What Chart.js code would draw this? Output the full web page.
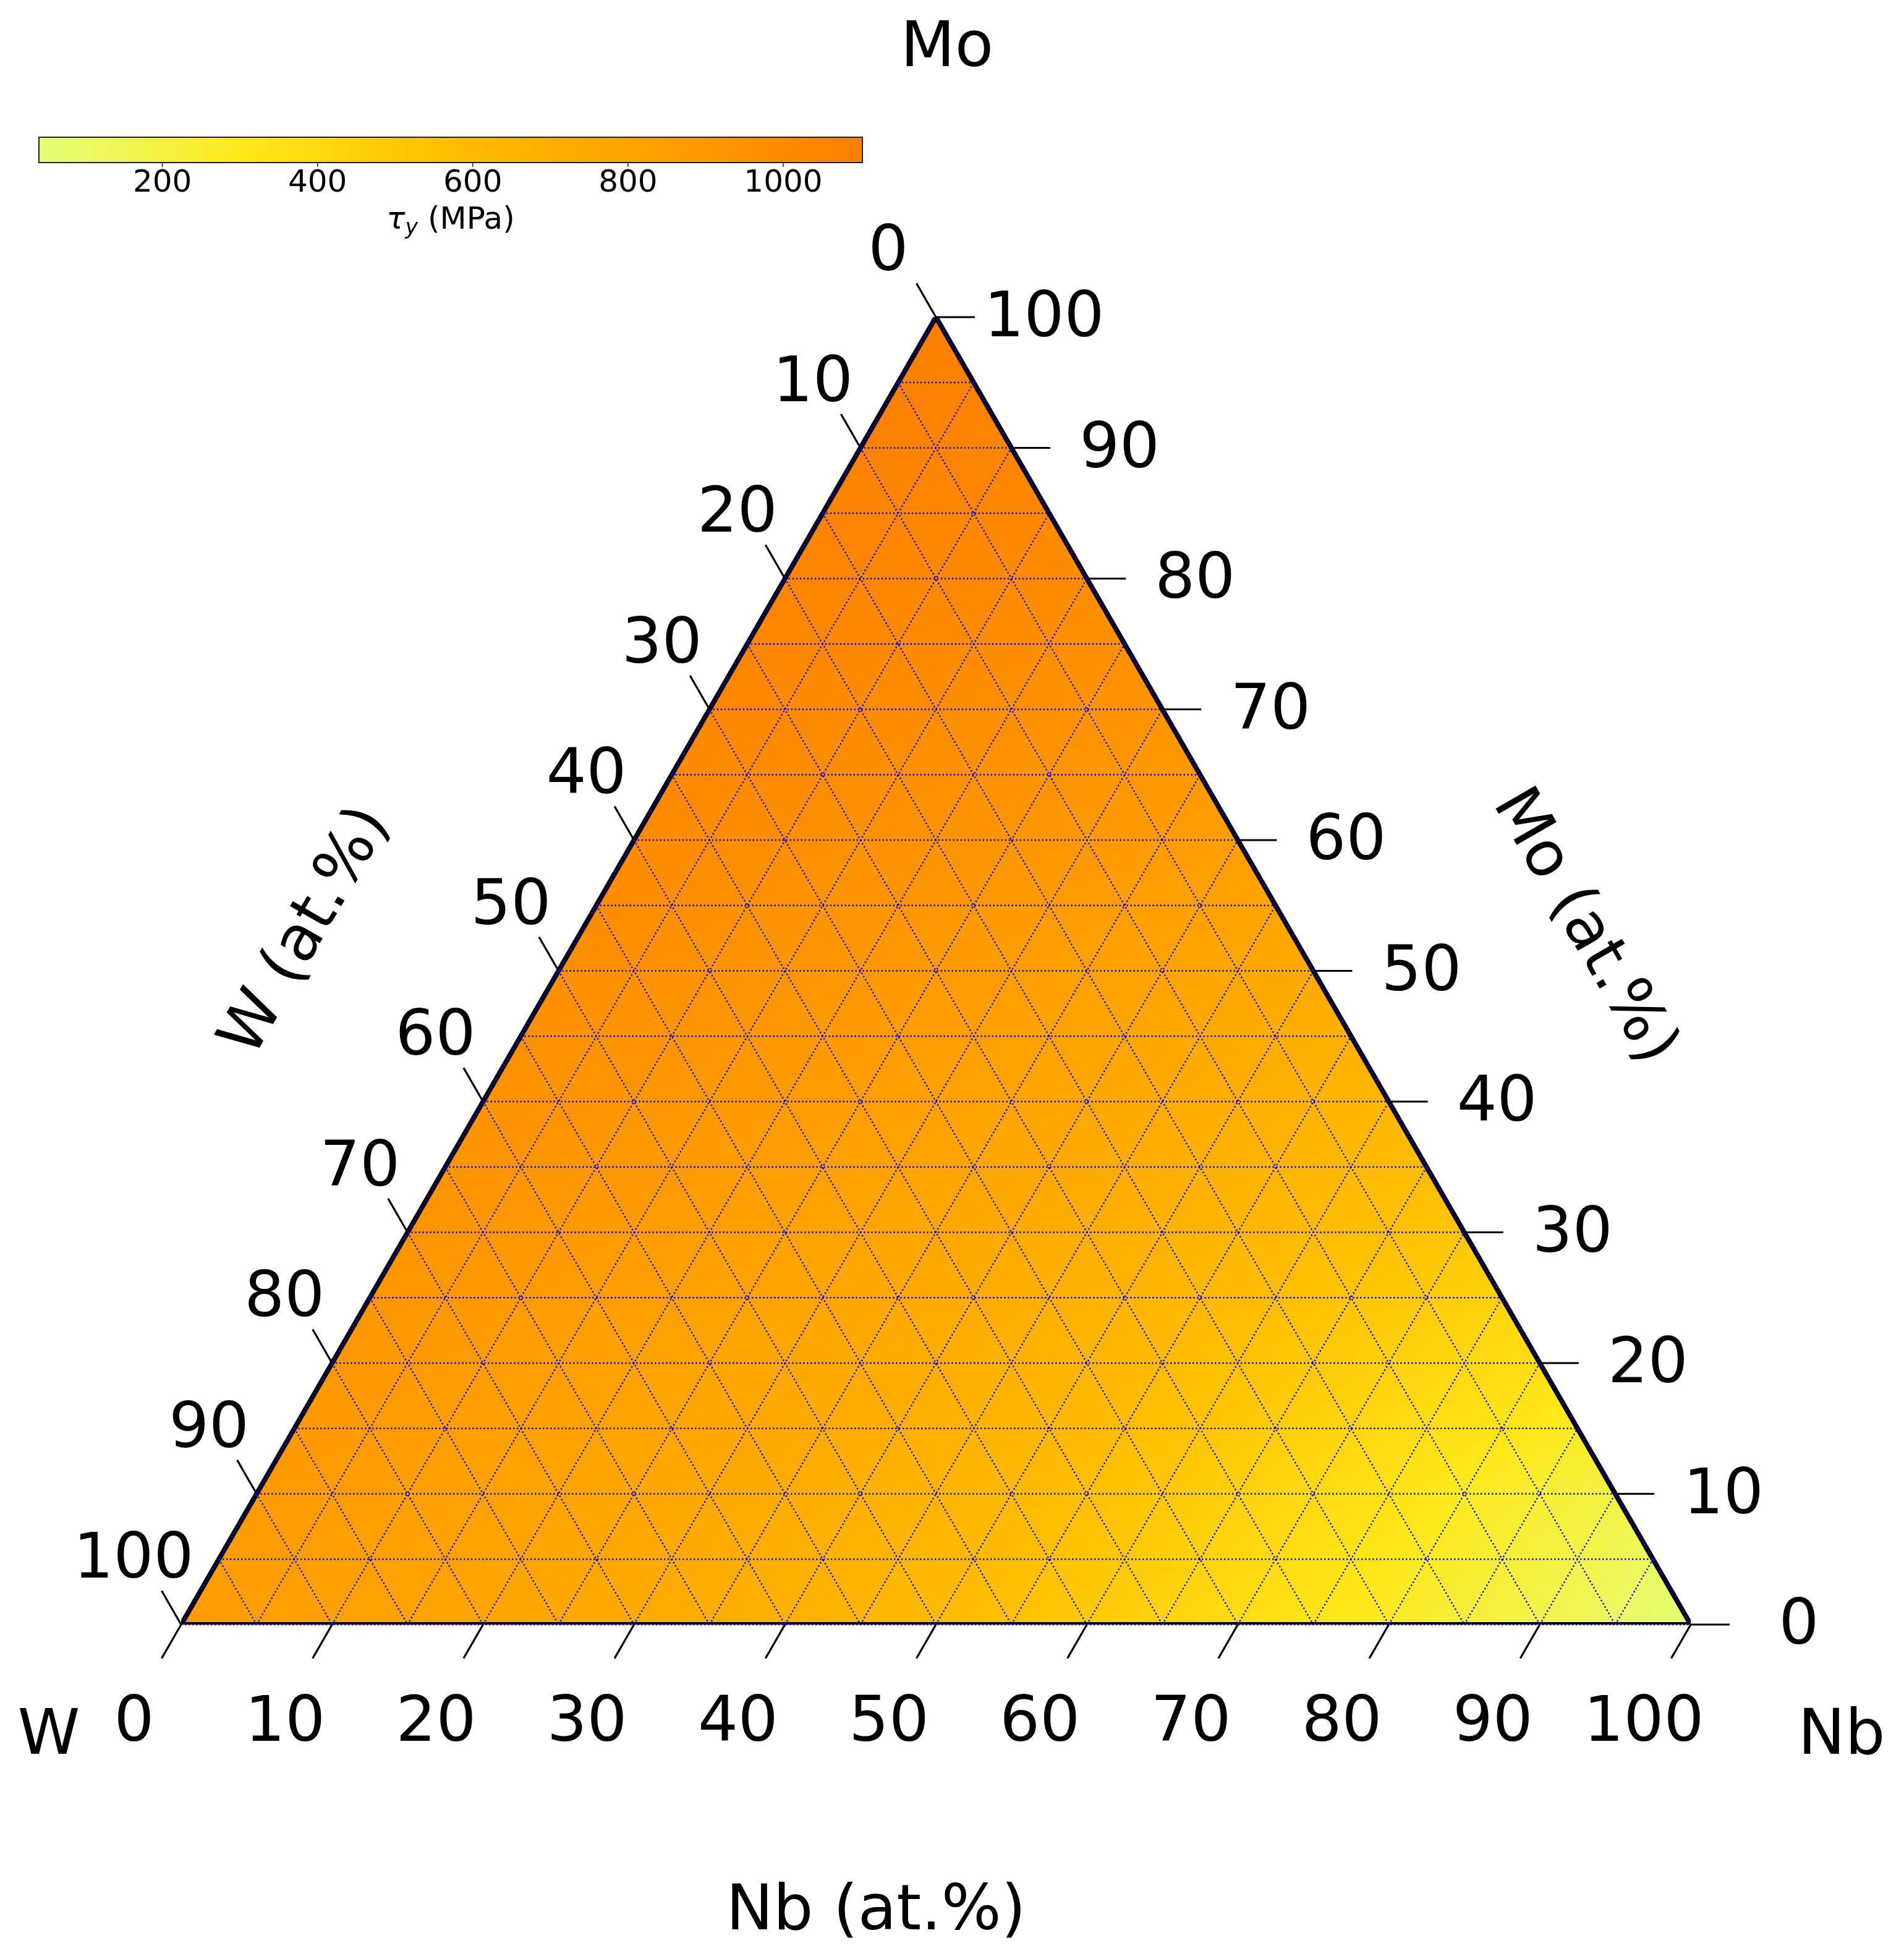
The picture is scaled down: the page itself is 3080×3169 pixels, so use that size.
<!DOCTYPE html>
<html>
<head>
<meta charset="utf-8">
<script src="https://cdn.jsdelivr.net/npm/chart.js@4"></script>
<style>
  body { margin: 0; background: #fff; }
  canvas { display: block; }
</style>
</head>
<body>
<canvas id="ternChart" width="3080" height="3169" style="width:3080px;height:3169px"></canvas>
<script>
// tau_y (MPa) at every 10 at.% node
// one array per Mo level, entries go Nb = 0, 10, 20 ... (W = 100 - Mo - Nb)
const tauMo0   = [865, 830, 790, 740, 675, 595, 490, 375, 275, 170, 45];
const tauMo10  = [880, 845, 805, 755, 690, 610, 505, 395, 290, 190];
const tauMo20  = [900, 865, 825, 775, 715, 640, 545, 450, 365];
const tauMo30  = [925, 890, 850, 800, 745, 670, 590, 515];
const tauMo40  = [950, 915, 875, 830, 775, 705, 625];
const tauMo50  = [980, 945, 905, 860, 810, 745];
const tauMo60  = [1005, 975, 940, 895, 850];
const tauMo70  = [1035, 1005, 970, 930];
const tauMo80  = [1060, 1030, 995];
const tauMo90  = [1085, 1055];
const tauMo100 = [1100];
const tauRows = [tauMo0, tauMo10, tauMo20, tauMo30, tauMo40, tauMo50,
                 tauMo60, tauMo70, tauMo80, tauMo90, tauMo100];

const axisTicks = [0, 10, 20, 30, 40, 50, 60, 70, 80, 90, 100];
const gridLevels = [5, 10, 15, 20, 25, 30, 35, 40, 45, 50, 55, 60, 65, 70, 75, 80, 85, 90, 95];
const cbTicks = [200, 400, 600, 800, 1000];
const cbRange = [41, 1102];

const SQ = Math.sqrt(3) / 2;
const FONT = "'DejaVu Sans', 'Liberation Sans', sans-serif";

// ternary (Nb, Mo) -> cartesian
function tern(nb, mo) {
  return { x: nb + mo / 2, y: mo * SQ };
}

// matplotlib Wistia
const wistia = [
  [0.00, 228, 255, 122],
  [0.25, 255, 232, 26],
  [0.50, 255, 189, 0],
  [0.75, 255, 160, 0],
  [1.00, 252, 127, 0]
];
function wistiaColor(t) {
  t = Math.max(0, Math.min(1, t));
  for (let k = 1; k < wistia.length; k++) {
    if (t <= wistia[k][0]) {
      const a = wistia[k - 1], b = wistia[k];
      const f = (t - a[0]) / (b[0] - a[0]);
      const r = Math.round(a[1] + (b[1] - a[1]) * f);
      const g = Math.round(a[2] + (b[2] - a[2]) * f);
      const bl = Math.round(a[3] + (b[3] - a[3]) * f);
      return `rgb(${r},${g},${bl})`;
    }
  }
  return 'rgb(252,127,0)';
}
function colorFor(v) {
  return wistiaColor((v - cbRange[0]) / (cbRange[1] - cbRange[0]));
}

// shade inside each 10% cell from its three corner readings
function tauAt(mo, nb) {
  const a = mo / 10, b = nb / 10;
  let i = Math.min(Math.floor(a), 10), j = Math.min(Math.floor(b), 10 - i);
  const fa = a - i, fb = b - j;
  const V = (p, q) => tauRows[p][q];
  if (fa + fb <= 1 + 1e-9 || i + j >= 9) {
    const v0 = V(i, j);
    const v1 = (i + 1 <= 10 && i + 1 + j <= 10) ? V(i + 1, j) : v0;
    const v2 = (i + j + 1 <= 10) ? V(i, j + 1) : v0;
    return v0 * (1 - fa - fb) + v1 * fa + v2 * fb;
  }
  return V(i + 1, j + 1) * (fa + fb - 1) + V(i + 1, j) * (1 - fb) + V(i, j + 1) * (1 - fa);
}

const outline = [tern(0, 0), tern(100, 0), tern(0, 100), tern(0, 0)];

const ternaryPlugin = {
  id: 'ternary',
  beforeDatasetsDraw(chart) {
    const ctx = chart.ctx, sx = chart.scales.x, sy = chart.scales.y;
    const P = (nb, mo) => {
      const p = tern(nb, mo);
      return [sx.getPixelForValue(p.x), sy.getPixelForValue(p.y)];
    };
    const step = 1;
    ctx.save();
    ctx.lineWidth = 1;
    for (let mo = 0; mo < 100; mo += step) {
      for (let nb = 0; nb + mo < 100; nb += step) {
        // upward cell
        let tri = [[nb, mo], [nb + step, mo], [nb, mo + step]];
        let v = tauAt(mo + step / 3, nb + step / 3);
        let c = colorFor(v);
        ctx.fillStyle = c; ctx.strokeStyle = c;
        ctx.beginPath();
        tri.forEach((t, k) => { const q = P(t[0], t[1]); k ? ctx.lineTo(q[0], q[1]) : ctx.moveTo(q[0], q[1]); });
        ctx.closePath(); ctx.fill(); ctx.stroke();
        // downward cell
        if (nb + mo + step < 100) {
          tri = [[nb + step, mo], [nb + step, mo + step], [nb, mo + step]];
          v = tauAt(mo + 2 * step / 3, nb + 2 * step / 3);
          c = colorFor(v);
          ctx.fillStyle = c; ctx.strokeStyle = c;
          ctx.beginPath();
          tri.forEach((t, k) => { const q = P(t[0], t[1]); k ? ctx.lineTo(q[0], q[1]) : ctx.moveTo(q[0], q[1]); });
          ctx.closePath(); ctx.fill(); ctx.stroke();
        }
      }
    }
    ctx.restore();
  },
  afterDatasetsDraw(chart) {
    const ctx = chart.ctx, sx = chart.scales.x, sy = chart.scales.y;
    const P = (nb, mo) => {
      const p = tern(nb, mo);
      return [sx.getPixelForValue(p.x), sy.getPixelForValue(p.y)];
    };
    ctx.save();

    // dotted grid every 5 at.%
    ctx.strokeStyle = '#0000ff';
    ctx.lineWidth = 2.4;
    ctx.setLineDash([2.4, 3.6]);
    const seg = (a, b) => { ctx.beginPath(); ctx.moveTo(a[0], a[1]); ctx.lineTo(b[0], b[1]); ctx.stroke(); };
    [0].concat(gridLevels, [100]).forEach(g => {
      seg(P(0, g), P(100 - g, g));      // Mo constant
      seg(P(g, 0), P(g, 100 - g));      // Nb constant
      seg(P(0, 100 - g), P(100 - g, 0)); // W constant
    });
    ctx.setLineDash([]);

    // ticks
    ctx.strokeStyle = '#000';
    ctx.lineWidth = 3.2;
    ctx.fillStyle = '#000';
    ctx.font = `102px ${FONT}`;
    ctx.textAlign = 'center';
    ctx.textBaseline = 'alphabetic';
    const capOff = 0.364 * 102;
    axisTicks.forEach(v => {
      // bottom: Nb
      let b = P(v, 0);
      seg(b, [b[0] - 31.5, b[1] + 54.6]);
      ctx.fillText(String(v), b[0] - 76, b[1] + 151 + capOff);
      // right: Mo
      b = P(100 - v, v);
      seg(b, [b[0] + 63, b[1]]);
      ctx.fillText(String(v), b[0] + 175, b[1] - 6 + capOff);
      // left: W
      b = P(0, 100 - v);
      seg(b, [b[0] - 31.5, b[1] - 54.6]);
      ctx.fillText(String(v), b[0] - 77, b[1] - 113 + capOff);
    });

    // corner labels
    ctx.fillText('Mo', 1532, 107);
    ctx.fillText('W', 79, 2837);
    ctx.fillText('Nb', 2979, 2837);
    ctx.fillText('Nb (at.%)', 1417, 3121);

    ctx.textBaseline = 'middle';
    ctx.save();
    ctx.translate(2561, 1500);
    ctx.rotate(Math.PI / 3);
    ctx.fillText('Mo (at.%)', 0, 0);
    ctx.restore();
    ctx.save();
    ctx.translate(497, 1508);
    ctx.rotate(-Math.PI / 3);
    ctx.fillText('W (at.%)', 0, 0);
    ctx.restore();

    // colorbar
    const cbL = 63, cbR = 1395, cbT = 222, cbB = 263;
    const cbX = v => cbL + (v - cbRange[0]) / (cbRange[1] - cbRange[0]) * (cbR - cbL);
    for (let x = cbL; x < cbR; x++) {
      const v = cbRange[0] + (x + 0.5 - cbL) / (cbR - cbL) * (cbRange[1] - cbRange[0]);
      ctx.fillStyle = colorFor(v);
      ctx.fillRect(x, cbT, 1.5, cbB - cbT);
    }
    ctx.strokeStyle = '#222';
    ctx.lineWidth = 2;
    ctx.strokeRect(cbL, cbT, cbR - cbL, cbB - cbT);
    ctx.fillStyle = '#000';
    ctx.font = `50px ${FONT}`;
    ctx.textBaseline = 'alphabetic';
    ctx.lineWidth = 1.5;
    cbTicks.forEach(t => {
      const x = cbX(t);
      seg([x, cbB], [x, cbB + 7]);
      ctx.fillText(String(t), x, 292 + 0.364 * 50);
    });

    // tau_y (MPa)
    const base = 370;
    const p1 = 'τ', p2 = 'y', p3 = ' (MPa)';
    ctx.font = `italic 50px ${FONT}`;
    const w1 = ctx.measureText(p1).width;
    ctx.font = `italic 35px ${FONT}`;
    const w2 = ctx.measureText(p2).width;
    ctx.font = `50px ${FONT}`;
    const w3 = ctx.measureText(p3).width;
    let x0 = 729 - (w1 + w2 + w3) / 2;
    ctx.textAlign = 'left';
    ctx.font = `italic 50px ${FONT}`;
    ctx.fillText(p1, x0, base);
    ctx.font = `italic 35px ${FONT}`;
    ctx.fillText(p2, x0 + w1, base + 9);
    ctx.font = `50px ${FONT}`;
    ctx.fillText(p3, x0 + w1 + w2, base);

    ctx.restore();
  }
};

new Chart(document.getElementById('ternChart').getContext('2d'), {
  type: 'scatter',
  data: {
    datasets: [{
      label: 'outline',
      data: outline,
      showLine: true,
      borderColor: '#000',
      borderWidth: 8,
      borderJoinStyle: 'miter',
      pointRadius: 0,
      fill: false
    }]
  },
  options: {
    responsive: false,
    devicePixelRatio: 1,
    animation: false,
    layout: { padding: { left: 293, right: 345, top: 513, bottom: 541 } },
    scales: {
      x: { type: 'linear', min: 0, max: 100, display: false },
      y: { type: 'linear', min: 0, max: 100 * SQ, display: false }
    },
    plugins: {
      legend: { display: false },
      tooltip: { enabled: false }
    }
  },
  plugins: [ternaryPlugin]
});
</script>
</body>
</html>
